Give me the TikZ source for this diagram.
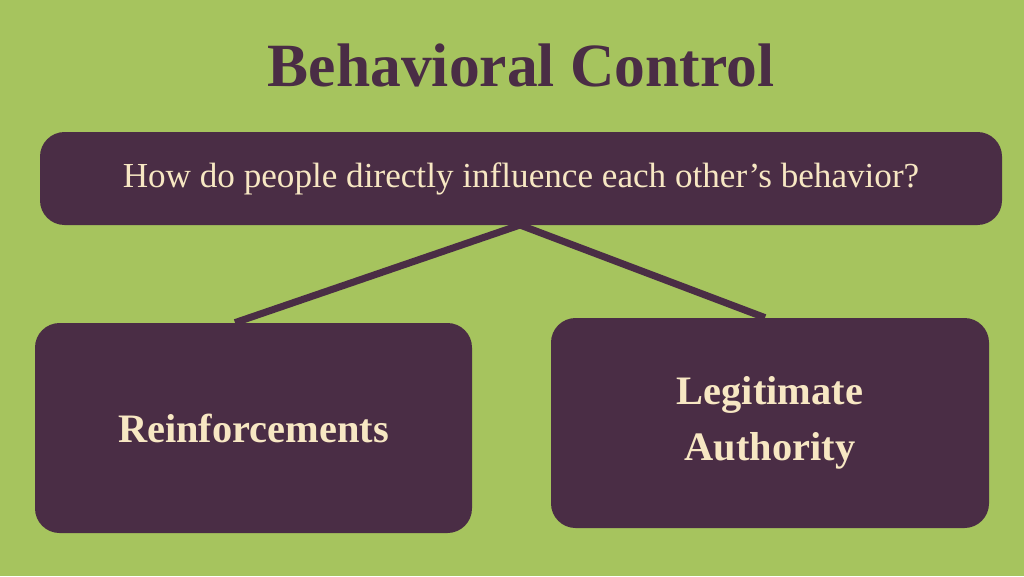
\documentclass[tikz,border=0pt]{standalone}
\usepackage{fontspec}
\setmainfont{Liberation Serif}
\definecolor{bggreen}{HTML}{A6C45E}
\definecolor{plum}{HTML}{4A2D45}
\definecolor{cream}{HTML}{F7E7C3}
\tikzset{
  box/.style={fill=plum, rounded corners=14pt, text=cream, align=center},
  link/.style={plum, line width=4pt}
}
\begin{document}
\begin{tikzpicture}[x=0.02cm, y=-0.02cm]
\fill[bggreen] (0,0) rectangle (1024,576);
\useasboundingbox (0,0) rectangle (1024,576);
% title
\node[text=plum, font=\fontsize{35}{40}\selectfont\bfseries] (title) at (521,65) {Behavioral Control};
% boxes
\node[box, minimum width=962*0.02cm, minimum height=93*0.02cm, font=\fontsize{20}{24}\selectfont] (question) at (521,178.5) {\raisebox{-4pt}{How do people directly influence each other's behavior?}};
\node[box, minimum width=437*0.02cm, minimum height=210*0.02cm, font=\fontsize{23}{30}\selectfont\bfseries] (reinf) at (253.5,428) {Reinforcements};
\node[box, minimum width=438*0.02cm, minimum height=210*0.02cm, font=\fontsize{23}{32}\selectfont\bfseries] (legit) at (770,423) {Legitimate\\Authority};
% connectors
\coordinate (q) at (520,225);
\draw[link] (q) -- (reinf.north -| 235,0);
\draw[link] (q) -- (legit.north -| 765,0);
\end{tikzpicture}
\end{document}
